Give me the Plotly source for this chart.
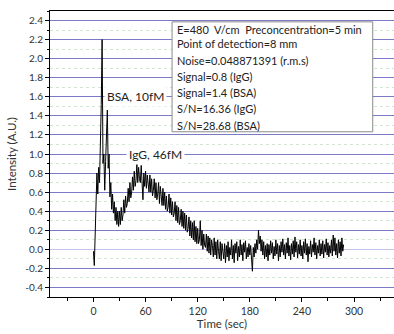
import plotly.graph_objects as go

# ---- data ----
time_s = list(range(0, 289))
intensity = [
    -0.02, -0.17, 0.15, 0.62, 0.80, 0.58, 0.86, 0.70, 1.00, 1.52,
    2.20, 0.90, 1.00, 0.62, 0.92, 1.15, 1.46, 0.85, 1.00, 0.55,
    0.70, 0.42, 0.58, 0.38, 0.50, 0.30, 0.44, 0.26, 0.40, 0.24,
    0.40, 0.26, 0.44, 0.30, 0.36, 0.52, 0.38, 0.56, 0.44, 0.48,
    0.64, 0.50, 0.70, 0.54, 0.60, 0.76, 0.62, 0.82, 0.66, 0.72,
    0.90, 0.70, 0.86, 0.74, 0.70, 0.88, 0.72, 0.52, 0.80, 0.66,
    0.82, 0.64, 0.78, 0.70, 0.60, 0.78, 0.60, 0.74, 0.56, 0.62,
    0.74, 0.54, 0.70, 0.52, 0.58, 0.70, 0.48, 0.66, 0.50, 0.46,
    0.64, 0.46, 0.60, 0.42, 0.56, 0.40, 0.44, 0.58, 0.38, 0.54,
    0.36, 0.50, 0.34, 0.38, 0.50, 0.30, 0.46, 0.28, 0.44, 0.26,
    0.30, 0.42, 0.24, 0.40, 0.22, 0.38, 0.20, 0.36, 0.18, 0.22,
    0.34, 0.14, 0.30, 0.12, 0.28, 0.10, 0.30, 0.08, 0.24, 0.06,
    0.22, 0.06, 0.10, 0.30, 0.04, 0.20, 0.00, 0.16, 0.04, 0.02,
    0.16, -0.02, 0.14, -0.04, 0.12, -0.06, 0.10, 0.04, -0.08, 0.12,
    -0.06, 0.08, -0.10, 0.10, -0.02, -0.10, 0.08, -0.12, 0.06, -0.06,
    -0.10, 0.06, -0.14, 0.04, -0.08, 0.08, -0.12, 0.02, -0.06, 0.10,
    -0.10, 0.04, -0.14, 0.06, -0.04, 0.08, -0.12, 0.03, -0.08, 0.10,
    -0.06, 0.05, -0.12, 0.07, -0.03, 0.09, -0.10, 0.02, -0.08, 0.06,
    -0.06, 0.04, -0.10, -0.23, 0.02, -0.08, 0.06, -0.04, 0.10, 0.00,
    0.20, 0.06, 0.14, -0.02, 0.10, -0.06, 0.08, -0.10, 0.04, -0.08,
    0.06, -0.12, 0.05, -0.06, 0.09, -0.04, 0.07, -0.10, 0.03, -0.07,
    0.10, -0.05, 0.06, -0.12, 0.04, -0.08, 0.08, -0.03, 0.11, -0.06,
    0.05, -0.10, 0.07, -0.04, 0.12, -0.07, 0.04, -0.11, 0.06, -0.05,
    0.09, -0.08, 0.13, -0.03, 0.08, -0.09, 0.05, -0.05, 0.10, -0.07,
    0.04, -0.10, 0.08, -0.04, 0.11, -0.06, 0.06, -0.13, 0.03, -0.05,
    0.09, -0.08, 0.05, -0.03, 0.12, -0.06, 0.07, -0.10, 0.04, -0.04,
    0.10, -0.07, 0.06, -0.05, 0.09, -0.09, 0.05, -0.03, 0.11, -0.06,
    0.07, -0.08, 0.04, -0.04, 0.10, -0.07, 0.15, -0.02, 0.12, -0.06,
    0.06, -0.09, 0.10, -0.04, 0.08, -0.07, 0.12, -0.02, 0.05,
]

y_tick_vals = [-0.4, -0.2, 0.0, 0.2, 0.4, 0.6, 0.8, 1.0, 1.2, 1.4, 1.6, 1.8, 2.0, 2.2, 2.4]
y_tick_text = ["-0.4", "-0.2", "0.0", "0.2", "0.4", "0.6", "0.8", "1.0", "1.2", "1.4",
               "1.6", "1.8", "2.0", "2.2", "2.4"]
x_tick_vals = [0, 60, 120, 180, 240, 300]

peak_labels = ["BSA, 10fM", "IgG, 46fM"]
peak_label_x = [48, 71]
peak_label_y = [1.6, 1.0]

info_lines = [
    "E=480  V/cm  Preconcentration=5 min",
    "Point of detection=8 mm",
    "Noise=0.048871391 (r.m.s)",
    "Signal=0.8 (IgG)",
    "Signal=1.4 (BSA)",
    "S/N=16.36 (IgG)",
    "S/N=28.68 (BSA)",
]
info_line_y = [2.31, 2.16, 1.98, 1.81, 1.645, 1.478, 1.30]

FONT = "Lato"

fig = go.Figure()
fig.add_trace(go.Scatter(
    x=time_s, y=intensity, mode="lines",
    line=dict(color="#000000", width=1.0),
    showlegend=False, hoverinfo="skip",
))

# info box
fig.add_shape(type="rect", xref="x", yref="y",
              x0=90.5, x1=321.5, y0=1.233, y1=2.386,
              line=dict(color="#8a8a8a", width=1), fillcolor="white", layer="above")

annotations = []
for t, xv, yv in zip(peak_labels, peak_label_x, peak_label_y):
    annotations.append(dict(x=xv, y=yv, xref="x", yref="y", text=t, showarrow=False,
                            font=dict(family=FONT, size=12, color="#222222"),
                            bgcolor="white", borderpad=2, xanchor="center", yanchor="middle"))
for t, yv in zip(info_lines, info_line_y):
    annotations.append(dict(x=94.3, y=yv, xref="x", yref="y", text=t, showarrow=False,
                            font=dict(family=FONT, size=11, color="#222222"),
                            xanchor="left", yanchor="middle"))

fig.update_layout(
    width=394, height=334,
    margin=dict(l=50, r=0, t=11, b=37),
    paper_bgcolor="white", plot_bgcolor="white",
    font=dict(family=FONT, size=10, color="#333333"),
    annotations=annotations,
    xaxis=dict(
        range=[-50, 346], showgrid=False, zeroline=False,
        showline=True, linecolor="black", linewidth=1, mirror=True,
        tickvals=x_tick_vals, ticks="outside", ticklen=4, tickcolor="black",
        tickfont=dict(family=FONT, size=10.5, color="#333333"),
        minor=dict(dtick=30, tick0=0, ticks="outside", ticklen=3, tickcolor="black", showgrid=False),
        title=dict(text="Time (sec)", font=dict(family=FONT, size=11.5, color="#333333"), standoff=3),
    ),
    yaxis=dict(
        range=[-0.5, 2.5],
        showline=True, linecolor="black", linewidth=1,
        tickvals=y_tick_vals, ticktext=y_tick_text,
        ticks="outside", ticklen=4, tickcolor="black",
        tickfont=dict(family=FONT, size=10, color="#333333"),
        showgrid=True, gridcolor="#7a7ac6", gridwidth=1,
        zeroline=True, zerolinecolor="#c4c4ee", zerolinewidth=1,
        minor=dict(dtick=0.1, tick0=0, ticks="outside", ticklen=2, tickcolor="black",
                   showgrid=True, gridcolor="#cfe6cf", griddash="dot", gridwidth=1),
        title=dict(text="Intensity (A.U.)", font=dict(family=FONT, size=11.5, color="#333333"), standoff=6),
    ),
)

fig.write_html("out.html", config={"displayModeBar": False},
               post_script="document.body.style.margin='0';")
